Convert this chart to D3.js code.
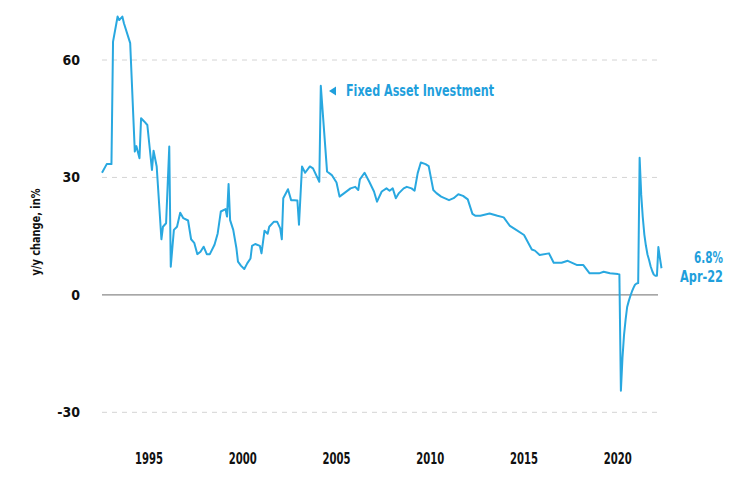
<!DOCTYPE html>
<html>
<head>
<meta charset="utf-8">
<script src="https://cdn.jsdelivr.net/npm/d3@7"></script>
<style>
	body { margin:0; background:#fff; }
	text { font-family:"DejaVu Sans Condensed","Liberation Sans Narrow","Roboto",sans-serif; font-weight:bold; }
</style>
</head>
<body>
<svg id="chart" width="737" height="480"></svg>
<script>

// --------------------------------
// data (month end, y/y change in %)
// --------------------------------

var months = [
	"1992-06","1992-09","1992-12","1993-01","1993-04","1993-05","1993-07","1993-08","1993-12",
	"1994-03","1994-04","1994-06","1994-07","1994-09","1994-11",
	"1995-02","1995-03","1995-05","1995-08","1995-09","1995-11",
	"1996-01","1996-02","1996-04","1996-06","1996-08","1996-10",
	"1997-01","1997-03","1997-05","1997-07","1997-09","1997-11",
	"1998-01","1998-03","1998-06","1998-08","1998-10",
	"1999-01","1999-02","1999-03","1999-04","1999-06","1999-08","1999-09","1999-11",
	"2000-01","2000-03","2000-05","2000-06","2000-08","2000-11","2000-12",
	"2001-02","2001-04","2001-05","2001-08","2001-10","2001-12",
	"2002-01","2002-02","2002-05","2002-07","2002-09","2002-11","2002-12",
	"2003-02","2003-04","2003-07","2003-09",
	"2004-01","2004-02","2004-06","2004-09","2004-12",
	"2005-02","2005-05","2005-09","2005-12",
	"2006-02","2006-03","2006-06","2006-09","2006-12",
	"2007-02","2007-03","2007-05","2007-08","2007-10","2007-12",
	"2008-02","2008-04","2008-07","2008-09","2008-12",
	"2009-02","2009-04","2009-06","2009-09","2009-11",
	"2010-02","2010-04","2010-07","2010-12",
	"2011-03","2011-06","2011-09","2011-12",
	"2012-03","2012-05","2012-08",
	"2013-02","2013-07","2013-11",
	"2014-03","2014-07","2014-12",
	"2015-05","2015-07","2015-10",
	"2016-04","2016-07","2016-12",
	"2017-04","2017-10",
	"2018-02","2018-06","2018-12",
	"2019-03","2019-07","2019-12",
	"2020-01","2020-02","2020-03","2020-04","2020-05","2020-06","2020-07","2020-08","2020-09","2020-10","2020-11","2020-12",
	"2021-01","2021-02","2021-03","2021-04","2021-05","2021-06","2021-07","2021-08","2021-09","2021-10","2021-11","2021-12",
	"2022-01","2022-02","2022-03","2022-04"
];

var values = [
	31.2,33.4,33.4,64.7,71.1,70.2,71.1,69.4,64.3,
	36.6,38.0,34.9,45.1,44.3,43.4,
	31.9,36.8,32.8,14.2,17.4,18.3,
	37.9,7.2,16.6,17.4,21.0,19.6,
	19.0,14.2,13.3,10.4,11.0,12.3,
	10.4,10.4,12.8,15.7,21.3,
	21.9,20.0,28.3,19.1,16.6,11.9,8.5,7.4,
	6.6,8.1,9.3,12.5,13.0,12.5,10.6,
	16.4,15.6,17.4,18.7,18.7,17.0,
	14.2,24.7,27.0,24.2,24.2,24.1,17.9,
	32.8,31.2,32.8,32.3,
	28.9,53.4,31.5,30.6,28.7,
	25.1,26.0,27.2,27.6,
	26.8,29.5,31.2,28.9,26.4,
	23.8,24.7,26.4,27.2,26.6,27.2,
	24.7,26.0,27.2,27.6,27.2,
	26.6,31.1,33.8,33.4,32.9,
	26.8,26.0,25.1,24.2,
	24.7,25.7,25.3,24.4,
	20.7,20.2,20.2,
	20.8,20.2,19.8,
	17.6,16.6,15.3,
	11.6,11.3,10.2,
	10.6,8.2,8.2,
	8.7,7.6,
	7.6,5.5,5.5,
	5.9,5.5,5.3,
	5.2,-24.5,-16.1,-10.3,-6.3,-3.1,-1.6,-0.3,0.8,1.8,2.6,2.9,
	3.0,35.0,25.6,19.9,15.4,12.6,10.3,8.9,7.3,6.1,5.2,4.9,
	4.9,12.2,9.3,6.8
];

var yTicks = [-30, 0, 30, 60];
var xTickYears = [1995, 2000, 2005, 2010, 2015, 2020];

var seriesName = "Fixed Asset Investment";
var yTitle = "y/y change, in%";
var lastLabel = "Apr-22";

// --------------------------------
// setup
// --------------------------------

var szLineColor = "#29a8e0";
var szTextColor = "#1f9fdc";

var parseMonth = d3.timeParse("%Y-%m");
// month values are plotted at the end of the month
var monthEnd = function(s){
	return d3.timeDay.offset(d3.timeMonth.offset(parseMonth(s), 1), -1);
};

var data = months.map(function(m, i){
	return { date: monthEnd(m), value: values[i] };
});

var nLeft = 102, nRight = 661.5, nGridRight = 658;

var x = d3.scaleTime()
	.domain(d3.extent(data, function(d){ return d.date; }))
	.range([nLeft, nRight]);

var y = d3.scaleLinear()
	.domain([-30, 60])
	.range([412.3, 60]);

var svg = d3.select("#chart");

// --------------------------------
// grid lines and y axis labels
// --------------------------------

var yAxis = svg.append("g").attr("class", "y-axis");

yAxis.selectAll("line")
	.data(yTicks)
	.enter().append("line")
	.attr("x1", nLeft)
	.attr("x2", nGridRight)
	.attr("y1", function(d){ return y(d); })
	.attr("y2", function(d){ return y(d); })
	.attr("style", function(d){
		return d === 0 ?
			"stroke:#8a8a8a;stroke-width:1.3;" :
			"stroke:#d4d4d4;stroke-width:1;stroke-dasharray:5,5;";
	});

yAxis.selectAll("text")
	.data(yTicks)
	.enter().append("text")
	.attr("x", 80)
	.attr("y", function(d){ return y(d); })
	.attr("dy", "0.36em")
	.attr("style", "font-size:14px;text-anchor:end;fill:#111;")
	.text(function(d){ return d; });

svg.append("text")
	.attr("transform", "translate(40,232) rotate(-90)")
	.attr("style", "font-size:11.5px;text-anchor:middle;fill:#111;")
	.attr("textLength", 87)
	.attr("lengthAdjust", "spacingAndGlyphs")
	.text(yTitle);

// --------------------------------
// x axis labels (at january 1st)
// --------------------------------

svg.append("g").attr("class", "x-axis")
	.selectAll("text")
	.data(xTickYears)
	.enter().append("text")
	.attr("x", function(d){ return x(new Date(d, 0, 1)); })
	.attr("y", 464)
	.attr("style", "font-size:15px;text-anchor:middle;fill:#111;")
	.attr("textLength", 28)
	.attr("lengthAdjust", "spacingAndGlyphs")
	.text(function(d){ return d; });

// --------------------------------
// the line
// --------------------------------

var line = d3.line()
	.x(function(d){ return x(d.date); })
	.y(function(d){ return y(d.value); });

svg.append("path")
	.datum(data)
	.attr("d", line)
	.attr("style", "fill:none;stroke:" + szLineColor + ";stroke-width:2;stroke-linejoin:round;");

// --------------------------------
// series label with marker
// --------------------------------

var nLabelY = 91;

svg.append("path")
	.attr("d", "M329," + nLabelY + " l7,-4.5 l0,9 z")
	.attr("style", "fill:" + szTextColor + ";");

svg.append("text")
	.attr("x", 346)
	.attr("y", nLabelY)
	.attr("dy", "0.36em")
	.attr("style", "font-size:15px;fill:" + szTextColor + ";")
	.attr("textLength", 148)
	.attr("lengthAdjust", "spacingAndGlyphs")
	.text(seriesName);

// last value
var last = data[data.length - 1];

svg.append("text")
	.attr("x", 723)
	.attr("y", 258)
	.attr("dy", "0.36em")
	.attr("style", "font-size:15px;text-anchor:end;fill:" + szTextColor + ";")
	.attr("textLength", 29)
	.attr("lengthAdjust", "spacingAndGlyphs")
	.text(last.value.toFixed(1) + "%");

svg.append("text")
	.attr("x", 723)
	.attr("y", 277)
	.attr("dy", "0.36em")
	.attr("style", "font-size:15px;text-anchor:end;fill:" + szTextColor + ";")
	.attr("textLength", 43)
	.attr("lengthAdjust", "spacingAndGlyphs")
	.text(lastLabel);

</script>
</body>
</html>
